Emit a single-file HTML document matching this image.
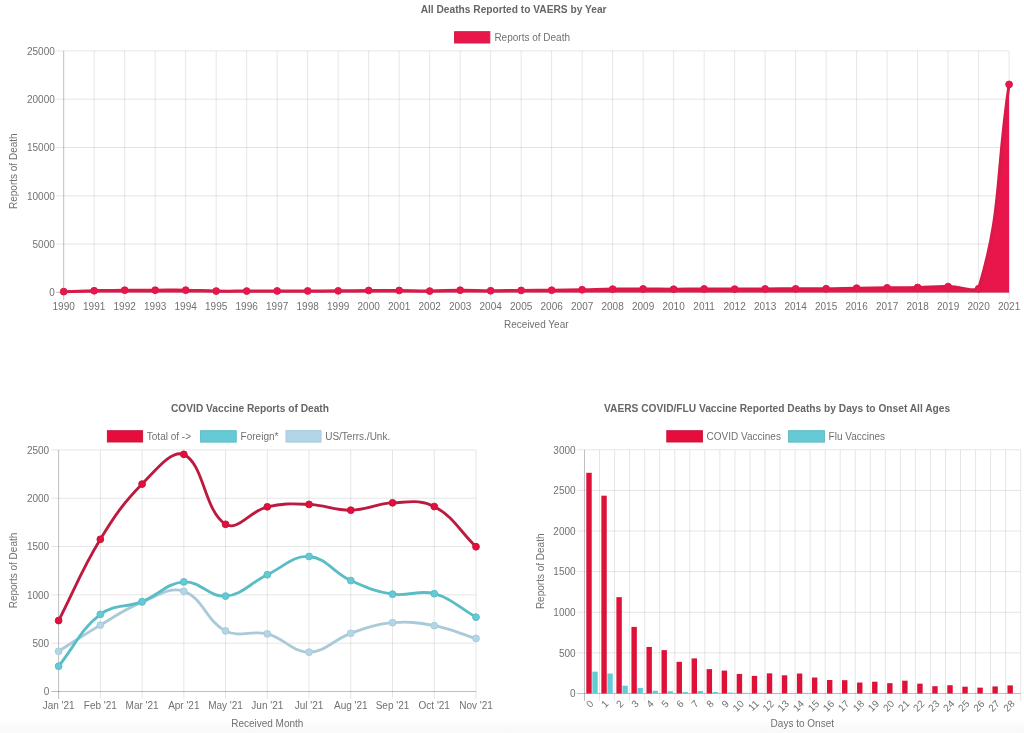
<!DOCTYPE html>
<html><head><meta charset="utf-8"><title>VAERS Charts</title>
<style>
html,body{margin:0;padding:0;background:#fff;}
body{width:1024px;height:733px;overflow:hidden;position:relative;font-family:"Liberation Sans", sans-serif;}
.band{position:absolute;left:0;top:721px;width:1024px;height:12px;background:linear-gradient(#fefefe,#fbfbfb 30%,#f9f9f9);}
svg{position:absolute;left:0;top:0;will-change:transform;}
svg text{font-family:"Liberation Sans", sans-serif;fill:#717171;}
svg text[font-weight=bold]{fill:#666;}
</style></head><body>
<div class="band"></div>
<svg width="1024" height="733" viewBox="0 0 1024 733">
<line x1="56.3" y1="292.4" x2="1009.1" y2="292.4" stroke="rgba(0,0,0,0.25)" stroke-width="1"/>
<line x1="56.3" y1="244.1" x2="1009.1" y2="244.1" stroke="rgba(0,0,0,0.1)" stroke-width="1"/>
<line x1="56.3" y1="195.8" x2="1009.1" y2="195.8" stroke="rgba(0,0,0,0.1)" stroke-width="1"/>
<line x1="56.3" y1="147.5" x2="1009.1" y2="147.5" stroke="rgba(0,0,0,0.1)" stroke-width="1"/>
<line x1="56.3" y1="99.2" x2="1009.1" y2="99.2" stroke="rgba(0,0,0,0.1)" stroke-width="1"/>
<line x1="56.3" y1="50.9" x2="1009.1" y2="50.9" stroke="rgba(0,0,0,0.1)" stroke-width="1"/>
<line x1="63.7" y1="50.9" x2="63.7" y2="299.8" stroke="rgba(0,0,0,0.25)" stroke-width="1"/>
<line x1="94.2" y1="50.9" x2="94.2" y2="299.8" stroke="rgba(0,0,0,0.1)" stroke-width="1"/>
<line x1="124.69" y1="50.9" x2="124.69" y2="299.8" stroke="rgba(0,0,0,0.1)" stroke-width="1"/>
<line x1="155.19" y1="50.9" x2="155.19" y2="299.8" stroke="rgba(0,0,0,0.1)" stroke-width="1"/>
<line x1="185.69" y1="50.9" x2="185.69" y2="299.8" stroke="rgba(0,0,0,0.1)" stroke-width="1"/>
<line x1="216.18" y1="50.9" x2="216.18" y2="299.8" stroke="rgba(0,0,0,0.1)" stroke-width="1"/>
<line x1="246.68" y1="50.9" x2="246.68" y2="299.8" stroke="rgba(0,0,0,0.1)" stroke-width="1"/>
<line x1="277.18" y1="50.9" x2="277.18" y2="299.8" stroke="rgba(0,0,0,0.1)" stroke-width="1"/>
<line x1="307.67" y1="50.9" x2="307.67" y2="299.8" stroke="rgba(0,0,0,0.1)" stroke-width="1"/>
<line x1="338.17" y1="50.9" x2="338.17" y2="299.8" stroke="rgba(0,0,0,0.1)" stroke-width="1"/>
<line x1="368.67" y1="50.9" x2="368.67" y2="299.8" stroke="rgba(0,0,0,0.1)" stroke-width="1"/>
<line x1="399.16" y1="50.9" x2="399.16" y2="299.8" stroke="rgba(0,0,0,0.1)" stroke-width="1"/>
<line x1="429.66" y1="50.9" x2="429.66" y2="299.8" stroke="rgba(0,0,0,0.1)" stroke-width="1"/>
<line x1="460.16" y1="50.9" x2="460.16" y2="299.8" stroke="rgba(0,0,0,0.1)" stroke-width="1"/>
<line x1="490.65" y1="50.9" x2="490.65" y2="299.8" stroke="rgba(0,0,0,0.1)" stroke-width="1"/>
<line x1="521.15" y1="50.9" x2="521.15" y2="299.8" stroke="rgba(0,0,0,0.1)" stroke-width="1"/>
<line x1="551.65" y1="50.9" x2="551.65" y2="299.8" stroke="rgba(0,0,0,0.1)" stroke-width="1"/>
<line x1="582.15" y1="50.9" x2="582.15" y2="299.8" stroke="rgba(0,0,0,0.1)" stroke-width="1"/>
<line x1="612.64" y1="50.9" x2="612.64" y2="299.8" stroke="rgba(0,0,0,0.1)" stroke-width="1"/>
<line x1="643.14" y1="50.9" x2="643.14" y2="299.8" stroke="rgba(0,0,0,0.1)" stroke-width="1"/>
<line x1="673.64" y1="50.9" x2="673.64" y2="299.8" stroke="rgba(0,0,0,0.1)" stroke-width="1"/>
<line x1="704.13" y1="50.9" x2="704.13" y2="299.8" stroke="rgba(0,0,0,0.1)" stroke-width="1"/>
<line x1="734.63" y1="50.9" x2="734.63" y2="299.8" stroke="rgba(0,0,0,0.1)" stroke-width="1"/>
<line x1="765.13" y1="50.9" x2="765.13" y2="299.8" stroke="rgba(0,0,0,0.1)" stroke-width="1"/>
<line x1="795.62" y1="50.9" x2="795.62" y2="299.8" stroke="rgba(0,0,0,0.1)" stroke-width="1"/>
<line x1="826.12" y1="50.9" x2="826.12" y2="299.8" stroke="rgba(0,0,0,0.1)" stroke-width="1"/>
<line x1="856.62" y1="50.9" x2="856.62" y2="299.8" stroke="rgba(0,0,0,0.1)" stroke-width="1"/>
<line x1="887.11" y1="50.9" x2="887.11" y2="299.8" stroke="rgba(0,0,0,0.1)" stroke-width="1"/>
<line x1="917.61" y1="50.9" x2="917.61" y2="299.8" stroke="rgba(0,0,0,0.1)" stroke-width="1"/>
<line x1="948.11" y1="50.9" x2="948.11" y2="299.8" stroke="rgba(0,0,0,0.1)" stroke-width="1"/>
<line x1="978.6" y1="50.9" x2="978.6" y2="299.8" stroke="rgba(0,0,0,0.1)" stroke-width="1"/>
<line x1="1009.1" y1="50.9" x2="1009.1" y2="299.8" stroke="rgba(0,0,0,0.1)" stroke-width="1"/>
<text x="54.8" y="296.1" font-size="10" text-anchor="end" >0</text>
<text x="54.8" y="247.8" font-size="10" text-anchor="end" >5000</text>
<text x="54.8" y="199.5" font-size="10" text-anchor="end" >10000</text>
<text x="54.8" y="151.2" font-size="10" text-anchor="end" >15000</text>
<text x="54.8" y="102.9" font-size="10" text-anchor="end" >20000</text>
<text x="54.8" y="54.6" font-size="10" text-anchor="end" >25000</text>
<text x="63.7" y="310.1" font-size="10" text-anchor="middle" >1990</text>
<text x="94.2" y="310.1" font-size="10" text-anchor="middle" >1991</text>
<text x="124.69" y="310.1" font-size="10" text-anchor="middle" >1992</text>
<text x="155.19" y="310.1" font-size="10" text-anchor="middle" >1993</text>
<text x="185.69" y="310.1" font-size="10" text-anchor="middle" >1994</text>
<text x="216.18" y="310.1" font-size="10" text-anchor="middle" >1995</text>
<text x="246.68" y="310.1" font-size="10" text-anchor="middle" >1996</text>
<text x="277.18" y="310.1" font-size="10" text-anchor="middle" >1997</text>
<text x="307.67" y="310.1" font-size="10" text-anchor="middle" >1998</text>
<text x="338.17" y="310.1" font-size="10" text-anchor="middle" >1999</text>
<text x="368.67" y="310.1" font-size="10" text-anchor="middle" >2000</text>
<text x="399.16" y="310.1" font-size="10" text-anchor="middle" >2001</text>
<text x="429.66" y="310.1" font-size="10" text-anchor="middle" >2002</text>
<text x="460.16" y="310.1" font-size="10" text-anchor="middle" >2003</text>
<text x="490.65" y="310.1" font-size="10" text-anchor="middle" >2004</text>
<text x="521.15" y="310.1" font-size="10" text-anchor="middle" >2005</text>
<text x="551.65" y="310.1" font-size="10" text-anchor="middle" >2006</text>
<text x="582.15" y="310.1" font-size="10" text-anchor="middle" >2007</text>
<text x="612.64" y="310.1" font-size="10" text-anchor="middle" >2008</text>
<text x="643.14" y="310.1" font-size="10" text-anchor="middle" >2009</text>
<text x="673.64" y="310.1" font-size="10" text-anchor="middle" >2010</text>
<text x="704.13" y="310.1" font-size="10" text-anchor="middle" >2011</text>
<text x="734.63" y="310.1" font-size="10" text-anchor="middle" >2012</text>
<text x="765.13" y="310.1" font-size="10" text-anchor="middle" >2013</text>
<text x="795.62" y="310.1" font-size="10" text-anchor="middle" >2014</text>
<text x="826.12" y="310.1" font-size="10" text-anchor="middle" >2015</text>
<text x="856.62" y="310.1" font-size="10" text-anchor="middle" >2016</text>
<text x="887.11" y="310.1" font-size="10" text-anchor="middle" >2017</text>
<text x="917.61" y="310.1" font-size="10" text-anchor="middle" >2018</text>
<text x="948.11" y="310.1" font-size="10" text-anchor="middle" >2019</text>
<text x="978.6" y="310.1" font-size="10" text-anchor="middle" >2020</text>
<text x="1009.1" y="310.1" font-size="10" text-anchor="middle" >2021</text>
<text x="536.3" y="328.2" font-size="10" text-anchor="middle" >Received Year</text>
<text transform="translate(16.8 171.2) rotate(-90)" font-size="10" text-anchor="middle">Reports of Death</text>
<text x="513.6" y="12.5" font-size="10.2" text-anchor="middle" font-weight="bold" >All Deaths Reported to VAERS by Year</text>
<rect x="454.6" y="31.7" width="35.2" height="11.3" fill="#e8164a" stroke="#d01c48" stroke-width="1"/>
<text x="494.4" y="40.6" font-size="10" text-anchor="start" >Reports of Death</text>
<path d="M63.7 291.63 C77.42 291.24 80.47 291.08 94.2 290.76 C107.92 290.43 110.97 290.31 124.69 290.18 C138.42 290.05 141.47 290.19 155.19 290.18 C168.91 290.17 171.97 289.93 185.69 290.13 C199.41 290.33 202.46 290.84 216.18 291.05 C229.9 291.25 232.96 291.07 246.68 291.05 C260.4 291.03 263.45 290.97 277.18 290.95 C290.9 290.93 293.95 290.97 307.67 290.95 C321.4 290.93 324.45 290.96 338.17 290.85 C351.9 290.75 354.94 290.55 368.67 290.47 C382.39 290.38 385.44 290.34 399.16 290.47 C412.89 290.6 415.94 291.11 429.66 291.05 C443.39 290.98 446.43 290.24 460.16 290.18 C473.88 290.11 476.93 290.71 490.65 290.76 C504.38 290.81 507.43 290.53 521.15 290.4 C534.87 290.27 537.93 290.34 551.65 290.2 C565.37 290.05 568.42 290 582.15 289.75 C595.87 289.51 598.92 289.3 612.64 289.12 C626.36 288.93 629.42 288.9 643.14 288.92 C656.86 288.94 659.91 289.21 673.64 289.21 C687.36 289.21 690.41 288.94 704.13 288.92 C717.86 288.9 720.91 289.12 734.63 289.12 C748.35 289.12 751.4 288.99 765.13 288.92 C778.85 288.86 781.9 288.87 795.62 288.83 C809.35 288.78 812.4 288.88 826.12 288.73 C839.84 288.58 842.89 288.35 856.62 288.15 C870.34 287.95 873.39 288.01 887.11 287.86 C900.84 287.71 903.89 287.76 917.61 287.47 C931.34 287.19 934.4 286.32 948.11 286.6 C961.84 286.89 975.07 292.4 978.6 288.73 C1002.51 209.47 995.38 176.35 1009.1 84.4 L1009.1 292.4 L63.7 292.4 Z" fill="#e8164a"/>
<path d="M63.7 291.63 C77.42 291.24 80.47 291.08 94.2 290.76 C107.92 290.43 110.97 290.31 124.69 290.18 C138.42 290.05 141.47 290.19 155.19 290.18 C168.91 290.17 171.97 289.93 185.69 290.13 C199.41 290.33 202.46 290.84 216.18 291.05 C229.9 291.25 232.96 291.07 246.68 291.05 C260.4 291.03 263.45 290.97 277.18 290.95 C290.9 290.93 293.95 290.97 307.67 290.95 C321.4 290.93 324.45 290.96 338.17 290.85 C351.9 290.75 354.94 290.55 368.67 290.47 C382.39 290.38 385.44 290.34 399.16 290.47 C412.89 290.6 415.94 291.11 429.66 291.05 C443.39 290.98 446.43 290.24 460.16 290.18 C473.88 290.11 476.93 290.71 490.65 290.76 C504.38 290.81 507.43 290.53 521.15 290.4 C534.87 290.27 537.93 290.34 551.65 290.2 C565.37 290.05 568.42 290 582.15 289.75 C595.87 289.51 598.92 289.3 612.64 289.12 C626.36 288.93 629.42 288.9 643.14 288.92 C656.86 288.94 659.91 289.21 673.64 289.21 C687.36 289.21 690.41 288.94 704.13 288.92 C717.86 288.9 720.91 289.12 734.63 289.12 C748.35 289.12 751.4 288.99 765.13 288.92 C778.85 288.86 781.9 288.87 795.62 288.83 C809.35 288.78 812.4 288.88 826.12 288.73 C839.84 288.58 842.89 288.35 856.62 288.15 C870.34 287.95 873.39 288.01 887.11 287.86 C900.84 287.71 903.89 287.76 917.61 287.47 C931.34 287.19 934.4 286.32 948.11 286.6 C961.84 286.89 975.07 292.4 978.6 288.73 C1002.51 209.47 995.38 176.35 1009.1 84.4" fill="none" stroke="#d81a48" stroke-width="3"/>
<circle cx="63.7" cy="291.63" r="3.4" fill="#e8164a" stroke="#d81a48" stroke-width="1"/>
<circle cx="94.2" cy="290.76" r="3.4" fill="#e8164a" stroke="#d81a48" stroke-width="1"/>
<circle cx="124.69" cy="290.18" r="3.4" fill="#e8164a" stroke="#d81a48" stroke-width="1"/>
<circle cx="155.19" cy="290.18" r="3.4" fill="#e8164a" stroke="#d81a48" stroke-width="1"/>
<circle cx="185.69" cy="290.13" r="3.4" fill="#e8164a" stroke="#d81a48" stroke-width="1"/>
<circle cx="216.18" cy="291.05" r="3.4" fill="#e8164a" stroke="#d81a48" stroke-width="1"/>
<circle cx="246.68" cy="291.05" r="3.4" fill="#e8164a" stroke="#d81a48" stroke-width="1"/>
<circle cx="277.18" cy="290.95" r="3.4" fill="#e8164a" stroke="#d81a48" stroke-width="1"/>
<circle cx="307.67" cy="290.95" r="3.4" fill="#e8164a" stroke="#d81a48" stroke-width="1"/>
<circle cx="338.17" cy="290.85" r="3.4" fill="#e8164a" stroke="#d81a48" stroke-width="1"/>
<circle cx="368.67" cy="290.47" r="3.4" fill="#e8164a" stroke="#d81a48" stroke-width="1"/>
<circle cx="399.16" cy="290.47" r="3.4" fill="#e8164a" stroke="#d81a48" stroke-width="1"/>
<circle cx="429.66" cy="291.05" r="3.4" fill="#e8164a" stroke="#d81a48" stroke-width="1"/>
<circle cx="460.16" cy="290.18" r="3.4" fill="#e8164a" stroke="#d81a48" stroke-width="1"/>
<circle cx="490.65" cy="290.76" r="3.4" fill="#e8164a" stroke="#d81a48" stroke-width="1"/>
<circle cx="521.15" cy="290.4" r="3.4" fill="#e8164a" stroke="#d81a48" stroke-width="1"/>
<circle cx="551.65" cy="290.2" r="3.4" fill="#e8164a" stroke="#d81a48" stroke-width="1"/>
<circle cx="582.15" cy="289.75" r="3.4" fill="#e8164a" stroke="#d81a48" stroke-width="1"/>
<circle cx="612.64" cy="289.12" r="3.4" fill="#e8164a" stroke="#d81a48" stroke-width="1"/>
<circle cx="643.14" cy="288.92" r="3.4" fill="#e8164a" stroke="#d81a48" stroke-width="1"/>
<circle cx="673.64" cy="289.21" r="3.4" fill="#e8164a" stroke="#d81a48" stroke-width="1"/>
<circle cx="704.13" cy="288.92" r="3.4" fill="#e8164a" stroke="#d81a48" stroke-width="1"/>
<circle cx="734.63" cy="289.12" r="3.4" fill="#e8164a" stroke="#d81a48" stroke-width="1"/>
<circle cx="765.13" cy="288.92" r="3.4" fill="#e8164a" stroke="#d81a48" stroke-width="1"/>
<circle cx="795.62" cy="288.83" r="3.4" fill="#e8164a" stroke="#d81a48" stroke-width="1"/>
<circle cx="826.12" cy="288.73" r="3.4" fill="#e8164a" stroke="#d81a48" stroke-width="1"/>
<circle cx="856.62" cy="288.15" r="3.4" fill="#e8164a" stroke="#d81a48" stroke-width="1"/>
<circle cx="887.11" cy="287.86" r="3.4" fill="#e8164a" stroke="#d81a48" stroke-width="1"/>
<circle cx="917.61" cy="287.47" r="3.4" fill="#e8164a" stroke="#d81a48" stroke-width="1"/>
<circle cx="948.11" cy="286.6" r="3.4" fill="#e8164a" stroke="#d81a48" stroke-width="1"/>
<circle cx="978.6" cy="288.73" r="3.4" fill="#e8164a" stroke="#d81a48" stroke-width="1"/>
<circle cx="1009.1" cy="84.4" r="3.4" fill="#e8164a" stroke="#d81a48" stroke-width="1"/>
<line x1="51.2" y1="691.5" x2="476" y2="691.5" stroke="rgba(0,0,0,0.25)" stroke-width="1"/>
<line x1="51.2" y1="643.18" x2="476" y2="643.18" stroke="rgba(0,0,0,0.1)" stroke-width="1"/>
<line x1="51.2" y1="594.86" x2="476" y2="594.86" stroke="rgba(0,0,0,0.1)" stroke-width="1"/>
<line x1="51.2" y1="546.54" x2="476" y2="546.54" stroke="rgba(0,0,0,0.1)" stroke-width="1"/>
<line x1="51.2" y1="498.22" x2="476" y2="498.22" stroke="rgba(0,0,0,0.1)" stroke-width="1"/>
<line x1="51.2" y1="449.9" x2="476" y2="449.9" stroke="rgba(0,0,0,0.1)" stroke-width="1"/>
<line x1="58.6" y1="449.9" x2="58.6" y2="698.9" stroke="rgba(0,0,0,0.25)" stroke-width="1"/>
<line x1="100.34" y1="449.9" x2="100.34" y2="698.9" stroke="rgba(0,0,0,0.1)" stroke-width="1"/>
<line x1="142.08" y1="449.9" x2="142.08" y2="698.9" stroke="rgba(0,0,0,0.1)" stroke-width="1"/>
<line x1="183.82" y1="449.9" x2="183.82" y2="698.9" stroke="rgba(0,0,0,0.1)" stroke-width="1"/>
<line x1="225.56" y1="449.9" x2="225.56" y2="698.9" stroke="rgba(0,0,0,0.1)" stroke-width="1"/>
<line x1="267.3" y1="449.9" x2="267.3" y2="698.9" stroke="rgba(0,0,0,0.1)" stroke-width="1"/>
<line x1="309.04" y1="449.9" x2="309.04" y2="698.9" stroke="rgba(0,0,0,0.1)" stroke-width="1"/>
<line x1="350.78" y1="449.9" x2="350.78" y2="698.9" stroke="rgba(0,0,0,0.1)" stroke-width="1"/>
<line x1="392.52" y1="449.9" x2="392.52" y2="698.9" stroke="rgba(0,0,0,0.1)" stroke-width="1"/>
<line x1="434.26" y1="449.9" x2="434.26" y2="698.9" stroke="rgba(0,0,0,0.1)" stroke-width="1"/>
<line x1="476" y1="449.9" x2="476" y2="698.9" stroke="rgba(0,0,0,0.1)" stroke-width="1"/>
<text x="49.2" y="695.2" font-size="10" text-anchor="end" >0</text>
<text x="49.2" y="646.88" font-size="10" text-anchor="end" >500</text>
<text x="49.2" y="598.56" font-size="10" text-anchor="end" >1000</text>
<text x="49.2" y="550.24" font-size="10" text-anchor="end" >1500</text>
<text x="49.2" y="501.92" font-size="10" text-anchor="end" >2000</text>
<text x="49.2" y="453.6" font-size="10" text-anchor="end" >2500</text>
<text x="58.6" y="709.2" font-size="10" text-anchor="middle" >Jan '21</text>
<text x="100.34" y="709.2" font-size="10" text-anchor="middle" >Feb '21</text>
<text x="142.08" y="709.2" font-size="10" text-anchor="middle" >Mar '21</text>
<text x="183.82" y="709.2" font-size="10" text-anchor="middle" >Apr '21</text>
<text x="225.56" y="709.2" font-size="10" text-anchor="middle" >May '21</text>
<text x="267.3" y="709.2" font-size="10" text-anchor="middle" >Jun '21</text>
<text x="309.04" y="709.2" font-size="10" text-anchor="middle" >Jul '21</text>
<text x="350.78" y="709.2" font-size="10" text-anchor="middle" >Aug '21</text>
<text x="392.52" y="709.2" font-size="10" text-anchor="middle" >Sep '21</text>
<text x="434.26" y="709.2" font-size="10" text-anchor="middle" >Oct '21</text>
<text x="476" y="709.2" font-size="10" text-anchor="middle" >Nov '21</text>
<text x="267.3" y="727.3" font-size="10" text-anchor="middle" >Received Month</text>
<text transform="translate(16.9 570.5) rotate(-90)" font-size="10" text-anchor="middle">Reports of Death</text>
<text x="250" y="411.6" font-size="10.2" text-anchor="middle" font-weight="bold" >COVID Vaccine Reports of Death</text>
<rect x="107.4" y="430.7" width="35.2" height="11.3" fill="#e60c3c" stroke="#c81a40" stroke-width="1"/>
<text x="146.8" y="439.6" font-size="10" text-anchor="start" >Total of -&gt;</text>
<rect x="200.6" y="430.7" width="35.6" height="11.4" fill="#66cad6" stroke="#5cbac4" stroke-width="1"/>
<text x="240.6" y="439.6" font-size="10" text-anchor="start" >Foreign*</text>
<rect x="286" y="430.7" width="35" height="11.4" fill="#b2d6e8" stroke="#a6cadb" stroke-width="1"/>
<text x="325.2" y="439.6" font-size="10" text-anchor="start" >US/Terrs./Unk.</text>
<path d="M58.6 651.3 C75.3 640.82 83.37 635.11 100.34 625.11 C116.76 615.43 124.55 609.21 142.08 602.11 C157.94 595.68 169.52 586.35 183.82 591.28 C202.91 597.87 206.23 621.04 225.56 630.91 C239.62 638.08 251.31 629.83 267.3 633.9 C284.71 638.34 292.39 652.28 309.04 652.17 C325.78 652.05 333.57 639.4 350.78 633.32 C366.96 627.61 375.58 624.24 392.52 622.69 C408.98 621.19 417.92 622.6 434.26 625.69 C451.31 628.9 459.3 633.34 476 638.44" fill="none" stroke="#aacada" stroke-width="2.85"/>
<circle cx="58.6" cy="651.3" r="3.4" fill="#b2d6e8" stroke="#aacada" stroke-width="1"/>
<circle cx="100.34" cy="625.11" r="3.4" fill="#b2d6e8" stroke="#aacada" stroke-width="1"/>
<circle cx="142.08" cy="602.11" r="3.4" fill="#b2d6e8" stroke="#aacada" stroke-width="1"/>
<circle cx="183.82" cy="591.28" r="3.4" fill="#b2d6e8" stroke="#aacada" stroke-width="1"/>
<circle cx="225.56" cy="630.91" r="3.4" fill="#b2d6e8" stroke="#aacada" stroke-width="1"/>
<circle cx="267.3" cy="633.9" r="3.4" fill="#b2d6e8" stroke="#aacada" stroke-width="1"/>
<circle cx="309.04" cy="652.17" r="3.4" fill="#b2d6e8" stroke="#aacada" stroke-width="1"/>
<circle cx="350.78" cy="633.32" r="3.4" fill="#b2d6e8" stroke="#aacada" stroke-width="1"/>
<circle cx="392.52" cy="622.69" r="3.4" fill="#b2d6e8" stroke="#aacada" stroke-width="1"/>
<circle cx="434.26" cy="625.69" r="3.4" fill="#b2d6e8" stroke="#aacada" stroke-width="1"/>
<circle cx="476" cy="638.44" r="3.4" fill="#b2d6e8" stroke="#aacada" stroke-width="1"/>
<path d="M58.6 666.18 C75.3 645.46 80.18 629.97 100.34 614.38 C113.57 604.15 125.85 607.94 142.08 601.62 C159.24 594.95 166.74 583.04 183.82 581.91 C200.13 580.83 209.38 597.5 225.56 596.12 C242.77 594.64 250.36 582.8 267.3 574.76 C283.76 566.95 292.81 555.37 309.04 556.49 C326.2 557.69 333.31 572.67 350.78 580.56 C366.7 587.75 375.4 591.49 392.52 594.18 C408.79 596.75 418.71 589.42 434.26 593.7 C452.1 598.62 459.3 607.79 476 617.18" fill="none" stroke="#5abdc6" stroke-width="2.85"/>
<circle cx="58.6" cy="666.18" r="3.4" fill="#66cad6" stroke="#5abdc6" stroke-width="1"/>
<circle cx="100.34" cy="614.38" r="3.4" fill="#66cad6" stroke="#5abdc6" stroke-width="1"/>
<circle cx="142.08" cy="601.62" r="3.4" fill="#66cad6" stroke="#5abdc6" stroke-width="1"/>
<circle cx="183.82" cy="581.91" r="3.4" fill="#66cad6" stroke="#5abdc6" stroke-width="1"/>
<circle cx="225.56" cy="596.12" r="3.4" fill="#66cad6" stroke="#5abdc6" stroke-width="1"/>
<circle cx="267.3" cy="574.76" r="3.4" fill="#66cad6" stroke="#5abdc6" stroke-width="1"/>
<circle cx="309.04" cy="556.49" r="3.4" fill="#66cad6" stroke="#5abdc6" stroke-width="1"/>
<circle cx="350.78" cy="580.56" r="3.4" fill="#66cad6" stroke="#5abdc6" stroke-width="1"/>
<circle cx="392.52" cy="594.18" r="3.4" fill="#66cad6" stroke="#5abdc6" stroke-width="1"/>
<circle cx="434.26" cy="593.7" r="3.4" fill="#66cad6" stroke="#5abdc6" stroke-width="1"/>
<circle cx="476" cy="617.18" r="3.4" fill="#66cad6" stroke="#5abdc6" stroke-width="1"/>
<path d="M58.6 620.57 C75.3 588.06 81.34 570.35 100.34 539.29 C114.73 515.77 122.9 503.63 142.08 484.11 C156.29 469.65 170.92 449.9 183.82 454.35 C204.32 464.22 204.09 510.82 225.56 524.31 C237.48 531.81 249.94 510.96 267.3 506.82 C283.33 503 292.41 503.73 309.04 504.4 C325.8 505.08 334.13 510.51 350.78 510.2 C367.52 509.89 375.73 503.6 392.52 502.86 C409.12 502.13 420.25 499.17 434.26 506.53 C453.64 516.72 459.3 530.65 476 546.73" fill="none" stroke="#bc1a3e" stroke-width="2.85"/>
<circle cx="58.6" cy="620.57" r="3.4" fill="#e60c3c" stroke="#bc1a3e" stroke-width="1"/>
<circle cx="100.34" cy="539.29" r="3.4" fill="#e60c3c" stroke="#bc1a3e" stroke-width="1"/>
<circle cx="142.08" cy="484.11" r="3.4" fill="#e60c3c" stroke="#bc1a3e" stroke-width="1"/>
<circle cx="183.82" cy="454.35" r="3.4" fill="#e60c3c" stroke="#bc1a3e" stroke-width="1"/>
<circle cx="225.56" cy="524.31" r="3.4" fill="#e60c3c" stroke="#bc1a3e" stroke-width="1"/>
<circle cx="267.3" cy="506.82" r="3.4" fill="#e60c3c" stroke="#bc1a3e" stroke-width="1"/>
<circle cx="309.04" cy="504.4" r="3.4" fill="#e60c3c" stroke="#bc1a3e" stroke-width="1"/>
<circle cx="350.78" cy="510.2" r="3.4" fill="#e60c3c" stroke="#bc1a3e" stroke-width="1"/>
<circle cx="392.52" cy="502.86" r="3.4" fill="#e60c3c" stroke="#bc1a3e" stroke-width="1"/>
<circle cx="434.26" cy="506.53" r="3.4" fill="#e60c3c" stroke="#bc1a3e" stroke-width="1"/>
<circle cx="476" cy="546.73" r="3.4" fill="#e60c3c" stroke="#bc1a3e" stroke-width="1"/>
<line x1="577.1" y1="693.5" x2="1020.7" y2="693.5" stroke="rgba(0,0,0,0.25)" stroke-width="1"/>
<line x1="577.1" y1="652.88" x2="1020.7" y2="652.88" stroke="rgba(0,0,0,0.1)" stroke-width="1"/>
<line x1="577.1" y1="612.27" x2="1020.7" y2="612.27" stroke="rgba(0,0,0,0.1)" stroke-width="1"/>
<line x1="577.1" y1="571.65" x2="1020.7" y2="571.65" stroke="rgba(0,0,0,0.1)" stroke-width="1"/>
<line x1="577.1" y1="531.03" x2="1020.7" y2="531.03" stroke="rgba(0,0,0,0.1)" stroke-width="1"/>
<line x1="577.1" y1="490.42" x2="1020.7" y2="490.42" stroke="rgba(0,0,0,0.1)" stroke-width="1"/>
<line x1="577.1" y1="449.8" x2="1020.7" y2="449.8" stroke="rgba(0,0,0,0.1)" stroke-width="1"/>
<line x1="584.5" y1="449.8" x2="584.5" y2="700.9" stroke="rgba(0,0,0,0.25)" stroke-width="1"/>
<line x1="599.54" y1="449.8" x2="599.54" y2="700.9" stroke="rgba(0,0,0,0.1)" stroke-width="1"/>
<line x1="614.58" y1="449.8" x2="614.58" y2="700.9" stroke="rgba(0,0,0,0.1)" stroke-width="1"/>
<line x1="629.62" y1="449.8" x2="629.62" y2="700.9" stroke="rgba(0,0,0,0.1)" stroke-width="1"/>
<line x1="644.67" y1="449.8" x2="644.67" y2="700.9" stroke="rgba(0,0,0,0.1)" stroke-width="1"/>
<line x1="659.71" y1="449.8" x2="659.71" y2="700.9" stroke="rgba(0,0,0,0.1)" stroke-width="1"/>
<line x1="674.75" y1="449.8" x2="674.75" y2="700.9" stroke="rgba(0,0,0,0.1)" stroke-width="1"/>
<line x1="689.79" y1="449.8" x2="689.79" y2="700.9" stroke="rgba(0,0,0,0.1)" stroke-width="1"/>
<line x1="704.83" y1="449.8" x2="704.83" y2="700.9" stroke="rgba(0,0,0,0.1)" stroke-width="1"/>
<line x1="719.87" y1="449.8" x2="719.87" y2="700.9" stroke="rgba(0,0,0,0.1)" stroke-width="1"/>
<line x1="734.91" y1="449.8" x2="734.91" y2="700.9" stroke="rgba(0,0,0,0.1)" stroke-width="1"/>
<line x1="749.96" y1="449.8" x2="749.96" y2="700.9" stroke="rgba(0,0,0,0.1)" stroke-width="1"/>
<line x1="765" y1="449.8" x2="765" y2="700.9" stroke="rgba(0,0,0,0.1)" stroke-width="1"/>
<line x1="780.04" y1="449.8" x2="780.04" y2="700.9" stroke="rgba(0,0,0,0.1)" stroke-width="1"/>
<line x1="795.08" y1="449.8" x2="795.08" y2="700.9" stroke="rgba(0,0,0,0.1)" stroke-width="1"/>
<line x1="810.12" y1="449.8" x2="810.12" y2="700.9" stroke="rgba(0,0,0,0.1)" stroke-width="1"/>
<line x1="825.16" y1="449.8" x2="825.16" y2="700.9" stroke="rgba(0,0,0,0.1)" stroke-width="1"/>
<line x1="840.2" y1="449.8" x2="840.2" y2="700.9" stroke="rgba(0,0,0,0.1)" stroke-width="1"/>
<line x1="855.24" y1="449.8" x2="855.24" y2="700.9" stroke="rgba(0,0,0,0.1)" stroke-width="1"/>
<line x1="870.29" y1="449.8" x2="870.29" y2="700.9" stroke="rgba(0,0,0,0.1)" stroke-width="1"/>
<line x1="885.33" y1="449.8" x2="885.33" y2="700.9" stroke="rgba(0,0,0,0.1)" stroke-width="1"/>
<line x1="900.37" y1="449.8" x2="900.37" y2="700.9" stroke="rgba(0,0,0,0.1)" stroke-width="1"/>
<line x1="915.41" y1="449.8" x2="915.41" y2="700.9" stroke="rgba(0,0,0,0.1)" stroke-width="1"/>
<line x1="930.45" y1="449.8" x2="930.45" y2="700.9" stroke="rgba(0,0,0,0.1)" stroke-width="1"/>
<line x1="945.49" y1="449.8" x2="945.49" y2="700.9" stroke="rgba(0,0,0,0.1)" stroke-width="1"/>
<line x1="960.53" y1="449.8" x2="960.53" y2="700.9" stroke="rgba(0,0,0,0.1)" stroke-width="1"/>
<line x1="975.58" y1="449.8" x2="975.58" y2="700.9" stroke="rgba(0,0,0,0.1)" stroke-width="1"/>
<line x1="990.62" y1="449.8" x2="990.62" y2="700.9" stroke="rgba(0,0,0,0.1)" stroke-width="1"/>
<line x1="1005.66" y1="449.8" x2="1005.66" y2="700.9" stroke="rgba(0,0,0,0.1)" stroke-width="1"/>
<line x1="1020.7" y1="449.8" x2="1020.7" y2="700.9" stroke="rgba(0,0,0,0.1)" stroke-width="1"/>
<text x="575.6" y="697.2" font-size="10" text-anchor="end" >0</text>
<text x="575.6" y="656.58" font-size="10" text-anchor="end" >500</text>
<text x="575.6" y="615.97" font-size="10" text-anchor="end" >1000</text>
<text x="575.6" y="575.35" font-size="10" text-anchor="end" >1500</text>
<text x="575.6" y="534.73" font-size="10" text-anchor="end" >2000</text>
<text x="575.6" y="494.12" font-size="10" text-anchor="end" >2500</text>
<text x="575.6" y="453.5" font-size="10" text-anchor="end" >3000</text>
<rect x="586.3" y="472.79" width="5.41" height="220.71" fill="#de1239"/>
<rect x="592.32" y="671.65" width="5.41" height="21.85" fill="#66cad6"/>
<text transform="translate(591.72 701.8) rotate(-45)" font-size="10" text-anchor="end" dy="3.5">0</text>
<rect x="601.35" y="495.7" width="5.41" height="197.8" fill="#de1239"/>
<rect x="607.36" y="673.52" width="5.41" height="19.98" fill="#66cad6"/>
<text transform="translate(606.76 701.8) rotate(-45)" font-size="10" text-anchor="end" dy="3.5">1</text>
<rect x="616.39" y="597.16" width="5.41" height="96.34" fill="#de1239"/>
<rect x="622.4" y="685.7" width="5.41" height="7.8" fill="#66cad6"/>
<text transform="translate(621.8 701.8) rotate(-45)" font-size="10" text-anchor="end" dy="3.5">2</text>
<rect x="631.43" y="626.89" width="5.41" height="66.61" fill="#de1239"/>
<rect x="637.45" y="687.89" width="5.41" height="5.61" fill="#66cad6"/>
<text transform="translate(636.84 701.8) rotate(-45)" font-size="10" text-anchor="end" dy="3.5">3</text>
<rect x="646.47" y="646.95" width="5.41" height="46.55" fill="#de1239"/>
<rect x="652.49" y="690.74" width="5.41" height="2.76" fill="#66cad6"/>
<text transform="translate(651.89 701.8) rotate(-45)" font-size="10" text-anchor="end" dy="3.5">4</text>
<rect x="661.51" y="650.12" width="5.41" height="43.38" fill="#de1239"/>
<rect x="667.53" y="691.23" width="5.41" height="2.27" fill="#66cad6"/>
<text transform="translate(666.93 701.8) rotate(-45)" font-size="10" text-anchor="end" dy="3.5">5</text>
<rect x="676.55" y="661.82" width="5.41" height="31.68" fill="#de1239"/>
<rect x="682.57" y="692.04" width="5.41" height="1.46" fill="#66cad6"/>
<text transform="translate(681.97 701.8) rotate(-45)" font-size="10" text-anchor="end" dy="3.5">6</text>
<rect x="691.59" y="658.41" width="5.41" height="35.09" fill="#de1239"/>
<rect x="697.61" y="691.06" width="5.41" height="2.44" fill="#66cad6"/>
<text transform="translate(697.01 701.8) rotate(-45)" font-size="10" text-anchor="end" dy="3.5">7</text>
<rect x="706.64" y="669.13" width="5.41" height="24.37" fill="#de1239"/>
<rect x="712.65" y="692.04" width="5.41" height="1.46" fill="#66cad6"/>
<text transform="translate(712.05 701.8) rotate(-45)" font-size="10" text-anchor="end" dy="3.5">8</text>
<rect x="721.68" y="670.59" width="5.41" height="22.91" fill="#de1239"/>
<rect x="727.69" y="692.53" width="5.41" height="0.97" fill="#66cad6"/>
<text transform="translate(727.09 701.8) rotate(-45)" font-size="10" text-anchor="end" dy="3.5">9</text>
<rect x="736.72" y="673.92" width="5.41" height="19.58" fill="#de1239"/>
<rect x="742.74" y="692.85" width="5.41" height="0.65" fill="#66cad6"/>
<text transform="translate(742.13 701.8) rotate(-45)" font-size="10" text-anchor="end" dy="3.5">10</text>
<rect x="751.76" y="675.87" width="5.41" height="17.63" fill="#de1239"/>
<rect x="757.78" y="692.85" width="5.41" height="0.65" fill="#66cad6"/>
<text transform="translate(757.18 701.8) rotate(-45)" font-size="10" text-anchor="end" dy="3.5">11</text>
<rect x="766.8" y="673.35" width="5.41" height="20.15" fill="#de1239"/>
<rect x="772.82" y="693.01" width="5.41" height="0.49" fill="#66cad6"/>
<text transform="translate(772.22 701.8) rotate(-45)" font-size="10" text-anchor="end" dy="3.5">12</text>
<rect x="781.84" y="675.3" width="5.41" height="18.2" fill="#de1239"/>
<rect x="787.86" y="693.01" width="5.41" height="0.49" fill="#66cad6"/>
<text transform="translate(787.26 701.8) rotate(-45)" font-size="10" text-anchor="end" dy="3.5">13</text>
<rect x="796.88" y="673.52" width="5.41" height="19.98" fill="#de1239"/>
<rect x="802.9" y="692.85" width="5.41" height="0.65" fill="#66cad6"/>
<text transform="translate(802.3 701.8) rotate(-45)" font-size="10" text-anchor="end" dy="3.5">14</text>
<rect x="811.93" y="677.5" width="5.41" height="16" fill="#de1239"/>
<rect x="817.94" y="693.26" width="5.41" height="0.24" fill="#66cad6"/>
<text transform="translate(817.34 701.8) rotate(-45)" font-size="10" text-anchor="end" dy="3.5">15</text>
<rect x="826.97" y="680.02" width="5.41" height="13.48" fill="#de1239"/>
<rect x="832.98" y="693.26" width="5.41" height="0.24" fill="#66cad6"/>
<text transform="translate(832.38 701.8) rotate(-45)" font-size="10" text-anchor="end" dy="3.5">16</text>
<rect x="842.01" y="680.18" width="5.41" height="13.32" fill="#de1239"/>
<rect x="848.02" y="693.26" width="5.41" height="0.24" fill="#66cad6"/>
<text transform="translate(847.42 701.8) rotate(-45)" font-size="10" text-anchor="end" dy="3.5">17</text>
<rect x="857.05" y="682.53" width="5.41" height="10.97" fill="#de1239"/>
<rect x="863.07" y="693.34" width="5.41" height="0.16" fill="#66cad6"/>
<text transform="translate(862.47 701.8) rotate(-45)" font-size="10" text-anchor="end" dy="3.5">18</text>
<rect x="872.09" y="681.72" width="5.41" height="11.78" fill="#de1239"/>
<rect x="878.11" y="693.34" width="5.41" height="0.16" fill="#66cad6"/>
<text transform="translate(877.51 701.8) rotate(-45)" font-size="10" text-anchor="end" dy="3.5">19</text>
<rect x="887.13" y="683.18" width="5.41" height="10.32" fill="#de1239"/>
<rect x="893.15" y="693.34" width="5.41" height="0.16" fill="#66cad6"/>
<text transform="translate(892.55 701.8) rotate(-45)" font-size="10" text-anchor="end" dy="3.5">20</text>
<rect x="902.17" y="680.67" width="5.41" height="12.83" fill="#de1239"/>
<rect x="908.19" y="693.34" width="5.41" height="0.16" fill="#66cad6"/>
<text transform="translate(907.59 701.8) rotate(-45)" font-size="10" text-anchor="end" dy="3.5">21</text>
<rect x="917.22" y="683.67" width="5.41" height="9.83" fill="#de1239"/>
<rect x="923.23" y="693.34" width="5.41" height="0.16" fill="#66cad6"/>
<text transform="translate(922.63 701.8) rotate(-45)" font-size="10" text-anchor="end" dy="3.5">22</text>
<rect x="932.26" y="686.19" width="5.41" height="7.31" fill="#de1239"/>
<rect x="938.27" y="693.34" width="5.41" height="0.16" fill="#66cad6"/>
<text transform="translate(937.67 701.8) rotate(-45)" font-size="10" text-anchor="end" dy="3.5">23</text>
<rect x="947.3" y="685.21" width="5.41" height="8.29" fill="#de1239"/>
<rect x="953.31" y="693.34" width="5.41" height="0.16" fill="#66cad6"/>
<text transform="translate(952.71 701.8) rotate(-45)" font-size="10" text-anchor="end" dy="3.5">24</text>
<rect x="962.34" y="686.68" width="5.41" height="6.82" fill="#de1239"/>
<rect x="968.36" y="693.34" width="5.41" height="0.16" fill="#66cad6"/>
<text transform="translate(967.76 701.8) rotate(-45)" font-size="10" text-anchor="end" dy="3.5">25</text>
<rect x="977.38" y="687.65" width="5.41" height="5.85" fill="#de1239"/>
<rect x="983.4" y="693.34" width="5.41" height="0.16" fill="#66cad6"/>
<text transform="translate(982.8 701.8) rotate(-45)" font-size="10" text-anchor="end" dy="3.5">26</text>
<rect x="992.42" y="686.43" width="5.41" height="7.07" fill="#de1239"/>
<rect x="998.44" y="693.34" width="5.41" height="0.16" fill="#66cad6"/>
<text transform="translate(997.84 701.8) rotate(-45)" font-size="10" text-anchor="end" dy="3.5">27</text>
<rect x="1007.46" y="685.38" width="5.41" height="8.12" fill="#de1239"/>
<rect x="1013.48" y="693.34" width="5.41" height="0.16" fill="#66cad6"/>
<text transform="translate(1012.88 701.8) rotate(-45)" font-size="10" text-anchor="end" dy="3.5">28</text>
<text x="802.3" y="726.6" font-size="10" text-anchor="middle" >Days to Onset</text>
<text transform="translate(543.6 571.3) rotate(-90)" font-size="10" text-anchor="middle">Reports of Death</text>
<text x="777.1" y="411.5" font-size="10.2" text-anchor="middle" font-weight="bold" >VAERS COVID/FLU Vaccine Reported Deaths by Days to Onset All Ages</text>
<rect x="666.8" y="430.7" width="35.6" height="11.3" fill="#e60c3c" stroke="#c81a40" stroke-width="1"/>
<text x="706.6" y="439.6" font-size="10" text-anchor="start" >COVID Vaccines</text>
<rect x="788.6" y="430.7" width="35.8" height="11.4" fill="#66cad6" stroke="#5cbac4" stroke-width="1"/>
<text x="828.6" y="439.6" font-size="10" text-anchor="start" >Flu Vaccines</text>
</svg>
</body></html>
